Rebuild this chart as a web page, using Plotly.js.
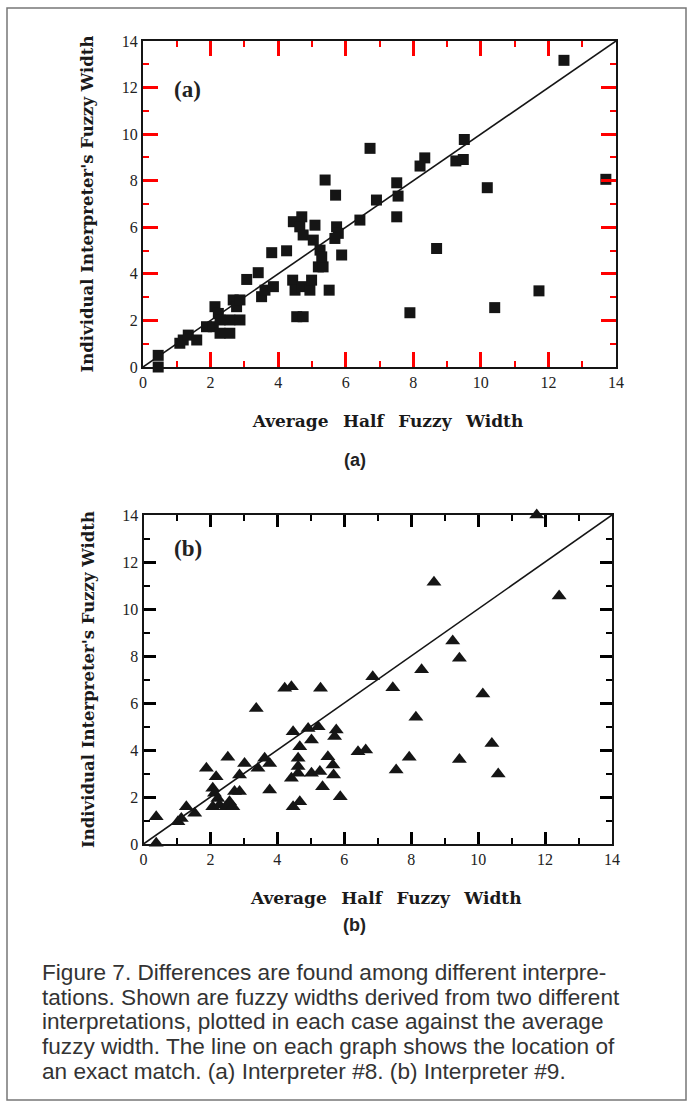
<!DOCTYPE html>
<html>
<head>
<meta charset="utf-8">
<script src="https://cdn.plot.ly/plotly-3.0.1.min.js"></script>
<style>
html,body{margin:0;padding:0;background:#fff;}
#chart{width:690px;height:1112px;}
</style>
</head>
<body>
<div id="chart"></div>
<script>
// ---- data ----
const tickVals = [0, 2, 4, 6, 8, 10, 12, 14];
const minorStep = 1;
const matchX = [0, 14];
const matchY = [0, 14];

// (a) Interpreter #8
const xA = [0.45,0.45,1.09,1.19,1.34,1.59,1.88,2.08,2.13,2.23,2.28,2.28,2.57,2.57,2.67,2.77,2.87,2.87,
  3.07,3.41,3.51,3.61,3.86,3.81,4.25,4.43,4.50,4.55,4.74,4.45,4.70,4.64,4.74,4.70,4.94,5.09,5.04,4.99,
  5.24,5.19,5.33,5.29,5.51,5.39,5.70,5.73,5.78,5.68,5.88,6.42,6.91,6.72,12.46,9.51,9.26,9.48,8.34,8.20,
  7.51,7.55,7.51,10.19,13.70,8.69,7.90,10.41,11.72];
const yA = [0.50,0.00,1.02,1.16,1.37,1.16,1.73,1.73,2.59,2.30,2.02,1.45,1.45,2.02,2.88,2.59,2.88,2.02,
  3.76,4.05,3.02,3.30,3.45,4.91,4.99,3.73,3.30,2.16,2.16,6.24,6.45,6.02,5.67,3.45,3.30,6.09,5.45,3.73,
  5.02,4.30,4.30,4.73,3.30,8.03,7.38,6.02,5.74,5.52,4.81,6.31,7.17,9.39,13.17,9.77,8.85,8.91,8.98,8.63,
  7.91,7.34,6.45,7.70,8.06,5.09,2.33,2.55,3.27];

// (b) Interpreter #9
const xB = [0.38,0.38,1.03,1.13,1.28,1.53,1.88,2.17,2.07,2.12,2.22,2.07,2.27,2.47,2.57,2.67,2.52,2.72,
  2.87,2.87,3.02,3.37,3.42,3.62,3.77,3.77,4.22,4.42,5.29,4.47,4.67,4.62,4.62,4.42,4.62,4.67,4.47,4.92,
  5.02,5.22,5.02,5.27,5.35,5.51,5.76,5.71,5.66,5.68,5.88,6.41,6.64,6.85,7.45,8.31,8.68,9.24,9.44,11.75,
  12.42,10.14,8.14,10.41,7.94,7.55,9.44,10.60];
const yB = [1.16,0.03,0.95,1.09,1.59,1.31,3.22,2.86,2.37,2.16,1.94,1.59,1.66,1.59,1.80,1.59,3.69,2.23,
  2.23,2.94,3.43,5.77,3.22,3.65,3.43,2.30,6.63,6.69,6.63,4.78,4.14,3.65,3.30,2.80,3.01,1.80,1.59,4.92,
  4.43,4.99,3.01,3.08,2.44,3.71,4.85,4.57,3.36,2.94,2.01,3.93,4.00,7.12,6.65,7.42,11.14,8.64,7.90,14.0,
  10.55,6.38,5.39,4.28,3.69,3.15,3.60,2.98];

const xTitle = '\u2002\u2002Average\u2002 Half\u2002 Fuzzy\u2002 Width';
const yTitle = "Individual Interpreter's Fuzzy Width";
const captionLines = [
  'Figure 7. Differences are found among different interpre-',
  'tations. Shown are fuzzy widths derived from two different',
  'interpretations, plotted in each case against the average',
  'fuzzy width. The line on each graph shows the location of',
  'an exact match. (a) Interpreter #8. (b) Interpreter #9.'
];

// ---- figure ----
const W = 690, H = 1112;
const px = v => v / W;
const py = v => 1 - v / H;

const ink = '#151515';
const serif = 'Liberation Serif, Times New Roman, serif';

function axis(domain, anchor, isX, tc, tl, tw) {
  return {
    domain: domain, anchor: anchor,
    range: [tickVals[0], tickVals[tickVals.length - 1]],
    tickmode: 'linear', tick0: tickVals[0], dtick: tickVals[1] - tickVals[0],
    ticks: 'inside', ticklen: tl, tickwidth: tw, tickcolor: tc,
    showline: true, linewidth: 2, linecolor: ink, mirror: 'allticks',
    showgrid: false, zeroline: false,
    tickfont: {family: serif, size: 16, color: '#222'},
    minor: {dtick: minorStep, ticks: 'inside', ticklen: 6, tickwidth: 2, tickcolor: tc, showgrid: false},
    title: {
      text: '<b>' + (isX ? xTitle : yTitle) + '</b>',
      font: {family: 'DejaVu Serif, Liberation Serif, serif', size: isX ? 17 : 16.5, color: '#1a1a1a'},
      standoff: isX ? 25 : 24
    }
  };
}

const traces = [
  {x: matchX, y: matchY, xaxis: 'x', yaxis: 'y', mode: 'lines', line: {color: ink, width: 1.6}, hoverinfo: 'skip'},
  {x: xA, y: yA, xaxis: 'x', yaxis: 'y', mode: 'markers', cliponaxis: false,
   marker: {symbol: 'square', size: 11, color: ink}},
  {x: matchX, y: matchY, xaxis: 'x2', yaxis: 'y2', mode: 'lines', line: {color: ink, width: 1.6}, hoverinfo: 'skip'},
  {x: xB, y: yB, xaxis: 'x2', yaxis: 'y2', mode: 'markers', cliponaxis: false,
   marker: {symbol: 'triangle-up', size: 13, color: ink}}
];

const annotations = [
  {text: '<b>(a)</b>', xref: 'paper', yref: 'paper', x: px(172), y: py(75), showarrow: false,
   font: {family: serif, size: 23, color: '#222'}},
  {text: '<b>(b)</b>', xref: 'paper', yref: 'paper', x: px(172), y: py(549), showarrow: false,
   font: {family: serif, size: 23, color: '#222'}},
  {text: '<b>(a)</b>', xref: 'paper', yref: 'paper', x: px(355), y: py(460), showarrow: false,
   font: {family: 'Liberation Sans, Arial, sans-serif', size: 18, color: '#222'}},
  {text: '<b>(b)</b>', xref: 'paper', yref: 'paper', x: px(355), y: py(937), showarrow: false,
   font: {family: 'Liberation Sans, Arial, sans-serif', size: 18, color: '#222'}}
];
const lineY = [972, 997, 1022, 1046, 1071];
captionLines.forEach((t, i) => {
  annotations.push({text: t, xref: 'paper', yref: 'paper', x: px(40), y: py(lineY[i]),
    xanchor: 'left', yanchor: 'middle', showarrow: false,
    font: {family: 'Liberation Sans, Arial, sans-serif', size: 22.6, color: '#333'}});
});

const layout = {
  width: W, height: H,
  margin: {l: 0, r: 0, t: 0, b: 0},
  showlegend: false,
  xaxis: axis([px(143), px(616)], 'y', true, 'red', 15, 3),
  yaxis: axis([1 - 367 / H, 1 - 41 / H], 'x', false, 'red', 15, 3),
  xaxis2: axis([px(143.5), px(612)], 'y2', true, '#000', 12, 3),
  yaxis2: axis([1 - 844 / H, 1 - 515 / H], 'x2', false, '#000', 12, 3),
  annotations: annotations,
  shapes: [
    {type: 'rect', xref: 'paper', yref: 'paper', x0: px(7), x1: px(686), y0: py(1100), y1: py(8),
     line: {color: '#777', width: 1.5}, fillcolor: 'rgba(0,0,0,0)', layer: 'below'}
  ]
};

Plotly.newPlot('chart', traces, layout, {staticPlot: true, displayModeBar: false});
</script>
</body>
</html>
